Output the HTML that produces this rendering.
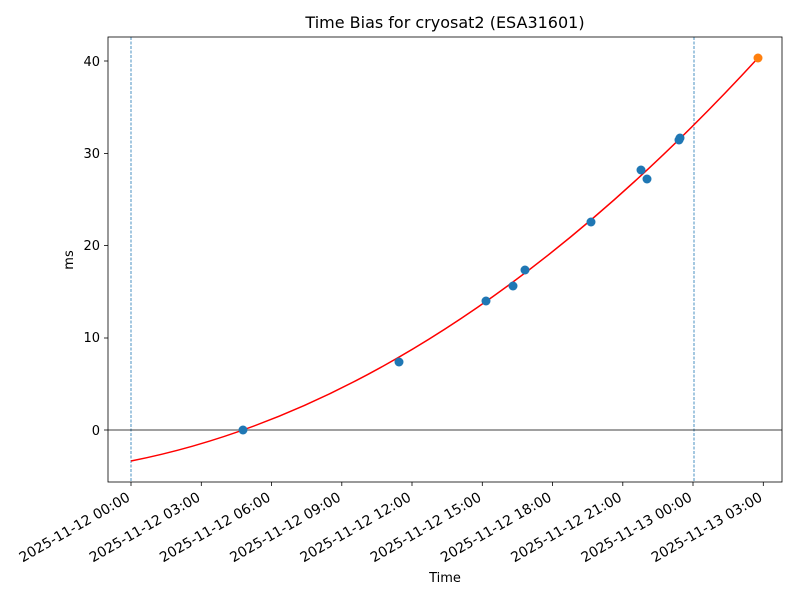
<!DOCTYPE html>
<html><head><meta charset="utf-8"><style>body{margin:0;background:#fff}svg{display:block;font-family:"DejaVu Sans","Liberation Sans",sans-serif}</style></head>
<body>
<svg width="800" height="600" viewBox="0 0 800 600">
<rect width="800" height="600" fill="#fff"/>
<text x="445" y="28" font-size="16" text-anchor="middle">Time Bias for cryosat2 (ESA31601)</text>
<line x1="131" y1="37" x2="131" y2="482" stroke="#1f77b4" stroke-width="0.8" stroke-dasharray="3,1.5"/>
<line x1="694" y1="37" x2="694" y2="482" stroke="#1f77b4" stroke-width="0.8" stroke-dasharray="3,1.5"/>
<line x1="108" y1="430" x2="782" y2="430" stroke="#000" stroke-width="0.8"/>
<path d="M131,461 Q444.5,399.2 758,58" fill="none" stroke="red" stroke-width="1.5"/>
<g fill="#1f77b4">
<circle cx="243" cy="430" r="4.5"/><circle cx="399" cy="362" r="4.5"/><circle cx="486" cy="301" r="4.5"/>
<circle cx="513" cy="286" r="4.5"/><circle cx="525" cy="270" r="4.5"/><circle cx="591" cy="222" r="4.5"/>
<circle cx="641" cy="170" r="4.5"/><circle cx="647" cy="179" r="4.5"/><circle cx="679" cy="140" r="4.5"/><circle cx="680" cy="138" r="4.5"/>
</g>
<circle cx="758" cy="58" r="4.5" fill="#ff7f0e"/>
<rect x="108" y="37" width="674" height="445" fill="none" stroke="#000" stroke-width="0.8"/>
<g stroke="#000" stroke-width="0.8">
<line x1="104" y1="61" x2="108" y2="61"/><line x1="104" y1="153.5" x2="108" y2="153.5"/><line x1="104" y1="245.5" x2="108" y2="245.5"/><line x1="104" y1="338" x2="108" y2="338"/><line x1="104" y1="430" x2="108" y2="430"/>
</g>
<g font-size="13" text-anchor="end">
<text x="100" y="66">40</text><text x="100" y="158">30</text><text x="100" y="250">20</text><text x="100" y="342">10</text><text x="100" y="435">0</text>
</g>
<text transform="translate(73,260) rotate(-90)" font-size="13" text-anchor="middle">ms</text>
<g stroke="#000" stroke-width="0.8">
<line x1="131" y1="482" x2="131" y2="486"/><line x1="201.3" y1="482" x2="201.3" y2="486"/><line x1="271.5" y1="482" x2="271.5" y2="486"/><line x1="341.8" y1="482" x2="341.8" y2="486"/><line x1="412" y1="482" x2="412" y2="486"/><line x1="482.3" y1="482" x2="482.3" y2="486"/><line x1="552.5" y1="482" x2="552.5" y2="486"/><line x1="622.8" y1="482" x2="622.8" y2="486"/><line x1="693" y1="482" x2="693" y2="486"/><line x1="763.3" y1="482" x2="763.3" y2="486"/>
</g>
<g font-size="13.9" text-anchor="end">
<text transform="translate(131,500) rotate(-30)">2025-11-12 00:00</text>
<text transform="translate(201.3,500) rotate(-30)">2025-11-12 03:00</text>
<text transform="translate(271.5,500) rotate(-30)">2025-11-12 06:00</text>
<text transform="translate(341.8,500) rotate(-30)">2025-11-12 09:00</text>
<text transform="translate(412,500) rotate(-30)">2025-11-12 12:00</text>
<text transform="translate(482.3,500) rotate(-30)">2025-11-12 15:00</text>
<text transform="translate(552.5,500) rotate(-30)">2025-11-12 18:00</text>
<text transform="translate(622.8,500) rotate(-30)">2025-11-12 21:00</text>
<text transform="translate(693,500) rotate(-30)">2025-11-13 00:00</text>
<text transform="translate(763.3,500) rotate(-30)">2025-11-13 03:00</text>
</g>
<text x="445" y="582" font-size="13" text-anchor="middle">Time</text>
</svg>
</body></html>
